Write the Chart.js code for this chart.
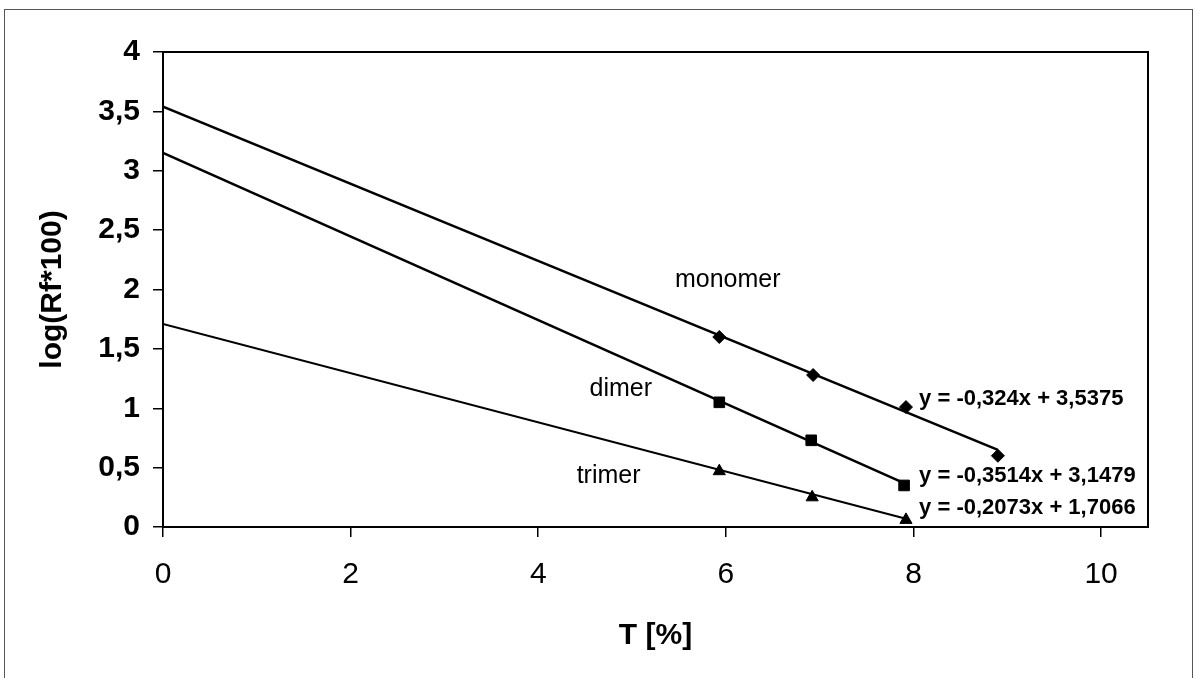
<!DOCTYPE html>
<html>
<head>
<meta charset="utf-8">
<script src="https://cdn.jsdelivr.net/npm/chart.js@4"></script>
<style>
  body { margin: 0; background: #fff; }
  #wrap { position: relative; width: 1199px; height: 678px; }
  #frame { position: absolute; left: 4px; top: 9px; width: 1189px; height: 680px; border: 1px solid #555; box-sizing: border-box; }
</style>
</head>
<body>
<div id="wrap">
  <div id="frame"></div>
  <canvas id="myChart" width="1199" height="678"></canvas>
</div>
<script>
// measured points
let monomerX = [5.93, 6.93, 7.92, 8.9];
let monomerY = [1.6, 1.28, 1.01, 0.6];
let dimerX = [5.93, 6.91, 7.9];
let dimerY = [1.05, 0.73, 0.35];
let trimerX = [5.93, 6.92, 7.92];
let trimerY = [0.47, 0.25, 0.06];

// trendline end points (x from 0 to last point)
let monomerTrendX = [0, 8.9];
let monomerTrendY = [3.54, 0.65];
let dimerTrendX = [0, 7.9];
let dimerTrendY = [3.15, 0.37];
let trimerTrendX = [0, 7.92];
let trimerTrendY = [1.71, 0.07];

let seriesNames = ["monomer", "dimer", "trimer"];
let equations = ["y = -0,324x + 3,5375", "y = -0,3514x + 3,1479", "y = -0,2073x + 1,7066"];

function toPoints(xs, ys){
    return xs.map((x, i) => ({x: x, y: ys[i]}));
}

// where the text labels sit (data coords)
const namePos = [[6.02, 2.08], [4.88, 1.16], [4.75, 0.43]];
const eqPos = [[8.06, 1.08], [8.06, 0.43], [8.06, 0.16]];

const FONT = '"Liberation Sans", Arial, sans-serif';

// plot box + text labels
const extras = {
    id: 'extras',
    afterDraw(chart){
        const ctx = chart.ctx;
        const a = chart.chartArea;
        const xs = chart.scales.x, ys = chart.scales.y;
        ctx.save();
        ctx.strokeStyle = '#000';
        ctx.lineWidth = 2;
        ctx.strokeRect(a.left, a.top, a.right - a.left, a.bottom - a.top);
        ctx.fillStyle = '#000';
        ctx.textBaseline = 'middle';
        ctx.textAlign = 'center';
        ctx.font = '25px ' + FONT;
        seriesNames.forEach((n, i) => {
            ctx.fillText(n, xs.getPixelForValue(namePos[i][0]), ys.getPixelForValue(namePos[i][1]));
        });
        ctx.textAlign = 'left';
        ctx.font = 'bold 22px ' + FONT;
        equations.forEach((t, i) => {
            ctx.fillText(t, xs.getPixelForValue(eqPos[i][0]), ys.getPixelForValue(eqPos[i][1]));
        });
        ctx.restore();
    }
};

let ctx = document.getElementById('myChart').getContext("2d");

var chart = new Chart(ctx, {
    type: 'scatter',
    data: {
        datasets: [
            { label: "monomer trend", type: 'line', data: toPoints(monomerTrendX, monomerTrendY), borderColor: "#000", borderWidth: 2.5, pointRadius: 0, fill: false },
            { label: "dimer trend", type: 'line', data: toPoints(dimerTrendX, dimerTrendY), borderColor: "#000", borderWidth: 2.5, pointRadius: 0, fill: false },
            { label: "trimer trend", type: 'line', data: toPoints(trimerTrendX, trimerTrendY), borderColor: "#000", borderWidth: 2, pointRadius: 0, fill: false },
            { label: "monomer", data: toPoints(monomerX, monomerY), pointStyle: 'rectRot', pointRadius: 6.5, backgroundColor: "#000", borderColor: "#000" },
            { label: "dimer", data: toPoints(dimerX, dimerY), pointStyle: 'rect', pointRadius: 7.5, backgroundColor: "#000", borderColor: "#000" },
            { label: "trimer", data: toPoints(trimerX, trimerY), pointStyle: 'triangle', pointRadius: 7, backgroundColor: "#000", borderColor: "#000" },
        ],
    },
    options: {
        responsive: false,
        animation: false,
        layout: { padding: { left: 0, top: 52, right: 51, bottom: 0 } },
        plugins: { legend: { display: false }, tooltip: { enabled: false } },
        scales: {
            x: {
                type: 'linear',
                min: 0,
                max: 10.5,
                afterFit: (s) => { s.height = 151; },
                grid: { drawOnChartArea: false, drawTicks: true, tickLength: 10, color: "#000", lineWidth: 1.5 },
                border: { color: "#000", width: 2 },
                ticks: {
                    stepSize: 2,
                    includeBounds: false,
                    color: "#000",
                    padding: 20,
                    font: { family: FONT, size: 30 },
                },
                title: {
                    display: true,
                    text: "T [%]",
                    color: "#000",
                    padding: { top: 0, bottom: 24 },
                    font: { family: FONT, size: 30, weight: 'bold' },
                },
            },
            y: {
                min: 0,
                max: 4,
                afterFit: (s) => { s.width = 163; },
                grid: { drawOnChartArea: false, drawTicks: true, tickLength: 10, color: "#000", lineWidth: 1.5 },
                border: { color: "#000", width: 2 },
                ticks: {
                    stepSize: 0.5,
                    color: "#000",
                    padding: 13,
                    font: { family: FONT, size: 30, weight: 'bold' },
                    callback: (v) => String(v).replace('.', ','),
                },
                title: {
                    display: true,
                    text: "log(Rf*100)",
                    color: "#000",
                    padding: { top: 35, bottom: 0 },
                    font: { family: FONT, size: 30, weight: 'bold' },
                },
            },
        },
    },
    plugins: [extras],
});
</script>
</body>
</html>
